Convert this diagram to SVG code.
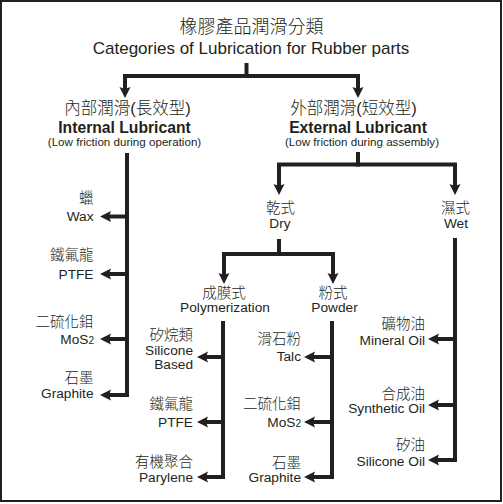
<svg xmlns="http://www.w3.org/2000/svg" width="503" height="504" viewBox="0 0 503 504">
<style>
text{font-family:"Liberation Sans","Noto Sans CJK TC",sans-serif;fill:#231f20}
.t1{font-size:18px;font-weight:300}
.t2{font-size:17px}
.h1{font-size:16.5px;font-weight:300}
.h2{font-size:15.7px;font-weight:bold}
.h3{font-size:11.6px}
.c{font-size:14.5px;font-weight:300}
.e{font-size:13.7px}
.sub{font-size:10px}
.mid{text-anchor:middle}
.end{text-anchor:end}
.ln{fill:none;stroke:#231f20;stroke-width:4;stroke-linejoin:miter}
.ar{marker-end:url(#ah)}
</style>
<defs>
<marker id="ah" markerUnits="userSpaceOnUse" markerWidth="12" markerHeight="12" refX="3" refY="5.5" orient="auto" overflow="visible">
<path d="M0,0 L11,5.5 L0,11 L2,5.5 Z" fill="#231f20"/>
</marker>
</defs>
<rect x="1" y="1" width="500" height="500" fill="#fff" stroke="#231f20" stroke-width="2"/>

<g id="connectors">
<path class="ln" d="M246.5,63 V76"/>
<path class="ln ar" d="M248,76 H125 V90"/>
<path class="ln ar" d="M245,76 H358 V90"/>
<path class="ln ar" d="M127,153 V395 H108"/>
<path class="ln ar" d="M127,216.5 H108"/>
<path class="ln ar" d="M127,274 H108"/>
<path class="ln ar" d="M127,339 H108"/>
<path class="ln" d="M358,152 V164.5"/>
<path class="ln ar" d="M360,164.5 H279 V187"/>
<path class="ln ar" d="M356,164.5 H455 V187"/>
<path class="ln" d="M279,239 V254"/>
<path class="ln ar" d="M281,254 H224 V276"/>
<path class="ln ar" d="M277,254 H333 V276"/>
<path class="ln ar" d="M223,321 V477 H205"/>
<path class="ln ar" d="M223,357 H205"/>
<path class="ln ar" d="M223,422 H205"/>
<path class="ln ar" d="M332,321 V477 H312"/>
<path class="ln ar" d="M332,357 H312"/>
<path class="ln ar" d="M332,422 H312"/>
<path class="ln ar" d="M455,238 V460 H436"/>
<path class="ln ar" d="M455,339 H436"/>
<path class="ln ar" d="M455,405 H436"/>
</g>

<g id="title">
<text class="t1 mid" x="251.5" y="33">橡膠產品潤滑分類</text>
<text class="t2 mid" x="251" y="54">Categories of Lubrication for Rubber parts</text>
</g>

<g id="internal">
<text class="h1 mid" x="127.5" y="114">內部潤滑(長效型)</text>
<text class="h2 mid" x="124.5" y="132.5">Internal Lubricant</text>
<text class="h3 mid" x="124.5" y="145.5">(Low friction during operation)</text>
</g>

<g id="external">
<text class="h1 mid" x="353.5" y="114">外部潤滑(短效型)</text>
<text class="h2 mid" x="358" y="132.5">External Lubricant</text>
<text class="h3 mid" x="362" y="145.5">(Low friction during assembly)</text>
</g>

<g id="wax">
<text class="c end" x="93.5" y="203">蠟</text>
<text class="e end" x="93.5" y="220.5">Wax</text>
</g>
<g id="ptfe-int">
<text class="c end" x="93.5" y="260">鐵氟龍</text>
<text class="e end" x="93.5" y="279">PTFE</text>
</g>
<g id="mos2-int">
<text class="c end" x="93.5" y="327">二硫化鉬</text>
<text class="e end" x="94" y="344">MoS<tspan class="sub">2</tspan></text>
</g>
<g id="graphite-int">
<text class="c end" x="93.5" y="383">石墨</text>
<text class="e end" x="93.5" y="398">Graphite</text>
</g>

<g id="dry">
<text class="c mid" x="280.5" y="212.5">乾式</text>
<text class="e mid" x="280" y="228">Dry</text>
</g>
<g id="wet">
<text class="c mid" x="455.5" y="212.5">濕式</text>
<text class="e mid" x="456" y="227.5">Wet</text>
</g>

<g id="polymerization">
<text class="c mid" x="224" y="297.5">成膜式</text>
<text class="e mid" x="225" y="311.5">Polymerization</text>
</g>
<g id="powder">
<text class="c mid" x="333" y="297.5">粉式</text>
<text class="e mid" x="334.5" y="311.5">Powder</text>
</g>

<g id="silicone-based">
<text class="c end" x="193" y="340">矽烷類</text>
<text class="e end" x="193" y="355">Silicone</text>
<text class="e end" x="193" y="368.5">Based</text>
</g>
<g id="ptfe-poly">
<text class="c end" x="193" y="409">鐵氟龍</text>
<text class="e end" x="193" y="426.5">PTFE</text>
</g>
<g id="parylene">
<text class="c end" x="193" y="467">有機聚合</text>
<text class="e end" x="193" y="482">Parylene</text>
</g>

<g id="talc">
<text class="c end" x="301" y="344">滑石粉</text>
<text class="e end" x="301" y="361">Talc</text>
</g>
<g id="mos2-powder">
<text class="c end" x="301" y="409">二硫化鉬</text>
<text class="e end" x="301" y="426.5">MoS<tspan class="sub">2</tspan></text>
</g>
<g id="graphite-powder">
<text class="c end" x="301" y="468">石墨</text>
<text class="e end" x="301" y="482">Graphite</text>
</g>

<g id="mineral-oil">
<text class="c end" x="425" y="329">礦物油</text>
<text class="e end" x="425" y="345">Mineral Oil</text>
</g>
<g id="synthetic-oil">
<text class="c end" x="425" y="399">合成油</text>
<text class="e end" x="425" y="413">Synthetic Oil</text>
</g>
<g id="silicone-oil">
<text class="c end" x="425" y="450">矽油</text>
<text class="e end" x="425" y="466">Silicone Oil</text>
</g>
</svg>
